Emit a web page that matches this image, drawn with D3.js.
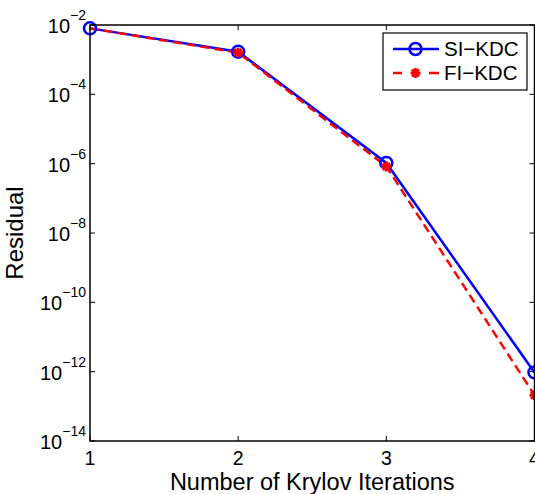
<!DOCTYPE html>
<html><head><meta charset="utf-8">
<script src="https://cdn.jsdelivr.net/npm/d3@7"></script>
<style>body{margin:0;background:#fff}svg{display:block;font-family:"Liberation Sans",Arial,sans-serif}</style>
</head><body><svg id="c" width="535" height="494"></svg>
<script>
const iterations = [1, 2, 3, 4];
const siKdc = [8e-3, 1.7e-3, 1.05e-6, 9.5e-13];
const fiKdc = [8e-3, 1.6e-3, 8.3e-7, 2.1e-13];
const xTicks = [1, 2, 3, 4];
const yExponents = [-2, -4, -6, -8, -10, -12, -14];
const seriesNames = ["SI\u2212KDC", "FI\u2212KDC"];

const svg = d3.select("#c");
const L = 90, R = 534.5, T = 25, B = 441;
const x = d3.scaleLinear().domain([1, 4]).range([L, R]);
const y = d3.scaleLog().domain([1e-14, 1e-2]).range([B, T]);

const tl = 5;
const g = svg.append("g");
xTicks.forEach(v => {
  g.append("line").attr("x1", x(v)).attr("x2", x(v)).attr("y1", B).attr("y2", B - tl).attr("stroke", "#000");
  g.append("line").attr("x1", x(v)).attr("x2", x(v)).attr("y1", T).attr("y2", T + tl).attr("stroke", "#000");
  g.append("text").attr("x", x(v)).attr("y", B + 23.5).attr("text-anchor", "middle").attr("font-size", 19.5).text(v);
});
yExponents.forEach(e => {
  const yy = y(Math.pow(10, e));
  g.append("line").attr("x1", L).attr("x2", L + tl).attr("y1", yy).attr("y2", yy).attr("stroke", "#000");
  g.append("line").attr("x1", R).attr("x2", R - tl).attr("y1", yy).attr("y2", yy).attr("stroke", "#000");
  const t = g.append("text").attr("x", L - 4).attr("y", yy + 8).attr("text-anchor", "end").attr("font-size", 20);
  t.append("tspan").text("10");
  t.append("tspan").attr("dy", -13).attr("font-size", 14).text("\u2212" + Math.abs(e));
});

const line = d3.line().x((d, i) => x(iterations[i])).y(d => y(d));
svg.append("path").datum(siKdc).attr("d", line).attr("fill", "none").attr("stroke", "#0000ff").attr("stroke-width", 2.5);
svg.append("path").datum(fiKdc).attr("d", line).attr("fill", "none").attr("stroke", "#ff0000").attr("stroke-width", 2.5).attr("stroke-dasharray", "9,5");

function star(sel, cx, cy, r) {
  const gg = sel.append("g").attr("stroke", "#ff0000").attr("stroke-width", 2.8);
  for (let k = 0; k < 4; k++) {
    const a = k * Math.PI / 4;
    gg.append("line").attr("x1", cx - r * Math.cos(a)).attr("y1", cy - r * Math.sin(a))
      .attr("x2", cx + r * Math.cos(a)).attr("y2", cy + r * Math.sin(a));
  }
}
siKdc.forEach((v, i) => {
  svg.append("circle").attr("cx", x(iterations[i])).attr("cy", y(v)).attr("r", 6)
    .attr("fill", "none").attr("stroke", "#0000ff").attr("stroke-width", 2.5);
});
fiKdc.forEach((v, i) => { if (i > 0) star(svg, x(iterations[i]), y(v), 5); });

svg.append("rect").attr("x", L).attr("y", T).attr("width", R - L).attr("height", B - T)
  .attr("fill", "none").attr("stroke", "#000").attr("stroke-width", 1.5);

const lg = svg.append("g");
lg.append("rect").attr("x", 383).attr("y", 33).attr("width", 144).attr("height", 57)
  .attr("fill", "#fff").attr("stroke", "#000").attr("stroke-width", 1.2);
[0, 1].forEach(i => {
  const ly = 49 + i * 24;
  const ln = lg.append("line").attr("x1", 393).attr("x2", 439).attr("y1", ly).attr("y2", ly)
    .attr("stroke", i ? "#ff0000" : "#0000ff").attr("stroke-width", 2.5);
  if (i) { ln.attr("stroke-dasharray", "9,27,10"); star(lg, 415.5, ly, 5); }
  else lg.append("circle").attr("cx", 415.5).attr("cy", ly).attr("r", 6).attr("fill", "none").attr("stroke", "#0000ff").attr("stroke-width", 2.5);
  lg.append("text").attr("x", 444).attr("y", ly + 7).attr("font-size", 20.5).text(seriesNames[i]);
});

svg.append("text").attr("x", (L + R) / 2).attr("y", 490).attr("text-anchor", "middle").attr("font-size", 23.5).text("Number of Krylov Iterations");
svg.append("text").attr("transform", `translate(23,${(T + B) / 2}) rotate(-90)`).attr("text-anchor", "middle").attr("font-size", 24).text("Residual");
</script></body></html>
